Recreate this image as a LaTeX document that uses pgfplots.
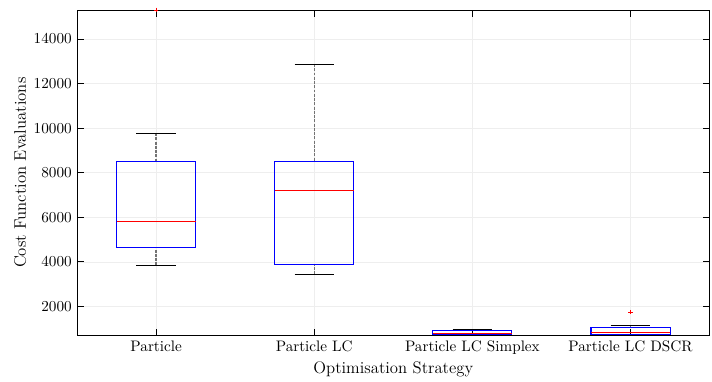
\documentclass[border=0pt]{standalone}
\usepackage{pgfplots}
\pgfplotsset{compat=1.18}
\usepgfplotslibrary{statistics}
\pgfplotsset{
  /pgfplots/boxplot/draw/lower whisker/.code={%
    \draw[black!55, line width=1pt, dash pattern=on 1.9pt off 0.9pt]
      (boxplot cs:\pgfplotsboxplotvalue{lower whisker}) -- (boxplot cs:\pgfplotsboxplotvalue{lower quartile});
    \draw[black, line width=0.7pt]
      (boxplot whisker cs:\pgfplotsboxplotvalue{lower whisker},0) -- (boxplot whisker cs:\pgfplotsboxplotvalue{lower whisker},1);
  },
  /pgfplots/boxplot/draw/upper whisker/.code={%
    \draw[black!55, line width=1pt, dash pattern=on 1.9pt off 0.9pt]
      (boxplot cs:\pgfplotsboxplotvalue{upper whisker}) -- (boxplot cs:\pgfplotsboxplotvalue{upper quartile});
    \draw[black, line width=0.7pt]
      (boxplot whisker cs:\pgfplotsboxplotvalue{upper whisker},0) -- (boxplot whisker cs:\pgfplotsboxplotvalue{upper whisker},1);
  },
  /pgfplots/boxplot/draw/box/.code={%
    \draw[blue, line width=0.7pt]
      (boxplot box cs:\pgfplotsboxplotvalue{lower quartile},0) rectangle
      (boxplot box cs:\pgfplotsboxplotvalue{upper quartile},1);
  },
  /pgfplots/boxplot/draw/median/.code={%
    \draw[red, line width=0.7pt]
      (boxplot box cs:\pgfplotsboxplotvalue{median},0) --
      (boxplot box cs:\pgfplotsboxplotvalue{median},1);
  },
}
\begin{document}
\begin{tikzpicture}
\begin{axis}[
  scale only axis,
  width=416pt, height=214pt,
  xmin=0.5, xmax=4.5,
  ymin=700, ymax=15300,
  xtick={1,2,3,4},
  xticklabels={Particle, Particle LC, Particle LC Simplex, Particle LC DSCR},
  ytick={2000,4000,...,14000},
  scaled y ticks=false,
  /pgf/number format/set thousands separator={},
  tick align=inside,
  major tick length=4.5pt,
  tick style={black, line width=0.6pt},
  grid=major,
  major grid style={gray!13, line width=0.4pt},
  axis line style={line width=0.6pt},
  xlabel={Optimisation Strategy},
  ylabel={Cost Function Evaluations},
  label style={font=\fontsize{11}{13}\selectfont},
  xlabel style={at={(axis description cs:0.5,-0.105)},anchor=center},
  ylabel style={at={(axis description cs:-0.09,0.5)},anchor=center},
  clip=false,
  boxplot/draw direction=y,
  boxplot/box extend=0.5,
  boxplot/whisker extend=0.25,
]
\addplot[mark=+, mark size=1.5pt, mark options={red, line width=0.6pt},
  boxplot prepared={draw position=1, lower whisker=3843, lower quartile=4652,
    median=5821, upper quartile=8517, upper whisker=9776}]
  table[row sep=\\, y index=0]{15300\\};
\addplot[mark=+, mark size=1.5pt, mark options={red, line width=0.6pt},
  boxplot prepared={draw position=2, lower whisker=3439, lower quartile=3888,
    median=7214, upper quartile=8510, upper whisker=12876}]
  coordinates {};
\addplot[mark=+, mark size=1.5pt, mark options={red, line width=0.6pt},
  boxplot prepared={draw position=3, lower whisker=700, lower quartile=720,
    median=773, upper quartile=908, upper whisker=953}]
  coordinates {};
\addplot[mark=+, mark size=1.5pt, mark options={red, line width=0.6pt},
  boxplot prepared={draw position=4, lower whisker=705, lower quartile=742,
    median=832, upper quartile=1056, upper whisker=1132}]
  table[row sep=\\, y index=0]{1744\\};
\end{axis}
\pgfresetboundingbox
\path (-50.7pt,-30.3pt) rectangle (417.6pt,220.6pt);
\end{tikzpicture}
\end{document}
